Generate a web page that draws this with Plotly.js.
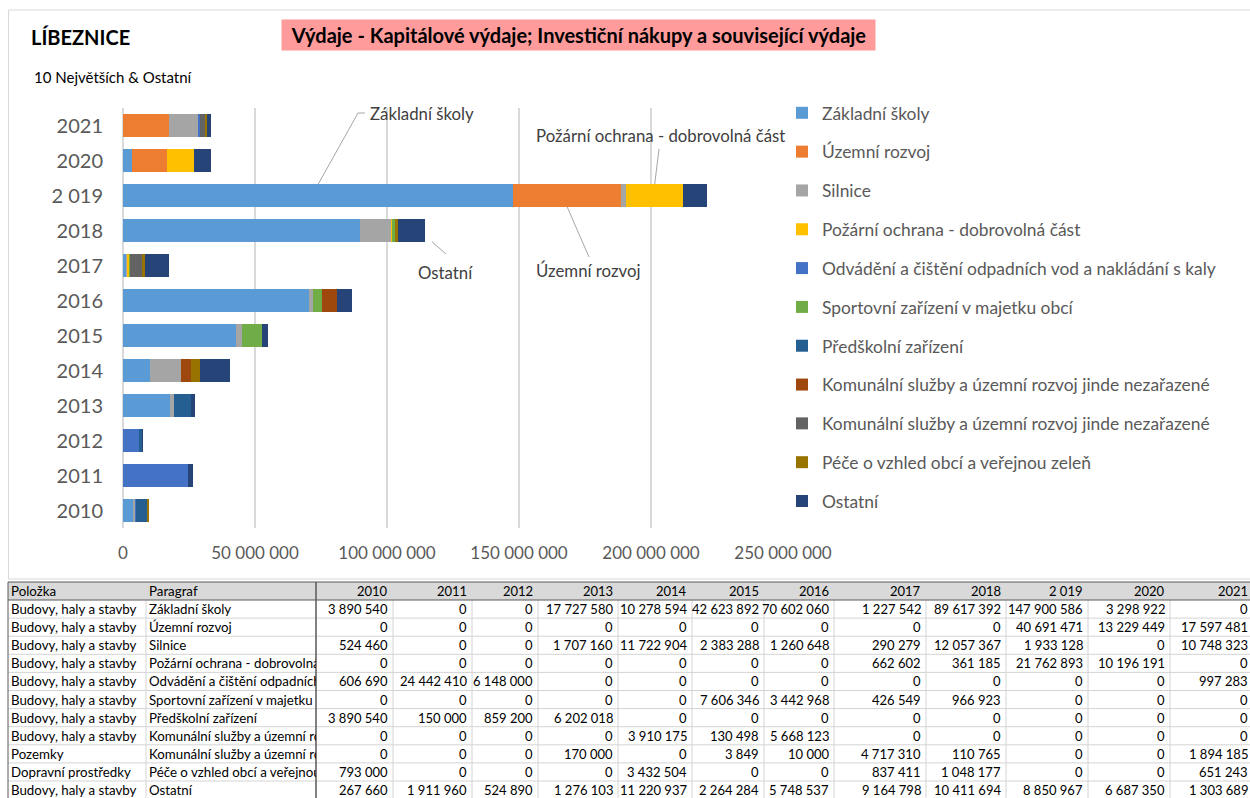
<!DOCTYPE html>
<html><head><meta charset="utf-8">
<script src="https://cdn.plot.ly/plotly-3.0.1.min.js"></script>
<style>html,body{margin:0;padding:0;background:#fff;overflow:hidden;} #chart{width:1250px;height:798px;}</style>
</head><body><div id="chart"></div>
<script>
// ---------- DATA ----------
const years = ['2010','2011','2012','2013','2014','2015','2016','2017','2018','2 019','2020','2021'];
const seriesNames = [
  'Základní školy',
  'Územní rozvoj',
  'Silnice',
  'Požární ochrana - dobrovolná část',
  'Odvádění a čištění odpadních vod a nakládání s kaly',
  'Sportovní zařízení v majetku obcí',
  'Předškolní zařízení',
  'Komunální služby a územní rozvoj jinde nezařazené',
  'Komunální služby a územní rozvoj jinde nezařazené',
  'Péče o vzhled obcí a veřejnou zeleň',
  'Ostatní'
];
const polozka = [
  'Budovy, haly a stavby','Budovy, haly a stavby','Budovy, haly a stavby','Budovy, haly a stavby',
  'Budovy, haly a stavby','Budovy, haly a stavby','Budovy, haly a stavby','Budovy, haly a stavby',
  'Pozemky','Dopravní prostředky','Budovy, haly a stavby'
];
const zakladniSkoly    = [3890540,0,0,17727580,10278594,42623892,70602060,1227542,89617392,147900586,3298922,0];
const uzemniRozvoj     = [0,0,0,0,0,0,0,0,0,40691471,13229449,17597481];
const silnice          = [524460,0,0,1707160,11722904,2383288,1260648,290279,12057367,1933128,0,10748323];
const pozarniOchrana   = [0,0,0,0,0,0,0,662602,361185,21762893,10196191,0];
const odvadeni         = [606690,24442410,6148000,0,0,0,0,0,0,0,0,997283];
const sportovni        = [0,0,0,0,0,7606346,3442968,426549,966923,0,0,0];
const predskolni       = [3890540,150000,859200,6202018,0,0,0,0,0,0,0,0];
const komunalniBudovy  = [0,0,0,0,3910175,130498,5668123,0,0,0,0,0];
const komunalniPozemky = [0,0,0,170000,0,3849,10000,4717310,110765,0,0,1894185];
const peceOVzhled      = [793000,0,0,0,3432504,0,0,837411,1048177,0,0,651243];
const ostatni          = [267660,1911960,524890,1276103,11220937,2264284,5748537,9164798,10411694,8850967,6687350,1303689];
const seriesValues = [zakladniSkoly,uzemniRozvoj,silnice,pozarniOchrana,odvadeni,sportovni,predskolni,komunalniBudovy,komunalniPozemky,peceOVzhled,ostatni];
const colors = ['#5B9BD5','#ED7D31','#A5A5A5','#FFC000','#4472C4','#70AD47','#255E91','#9E480E','#636363','#997300','#264478'];
const xTicks = [0,50000000,100000000,150000000,200000000,250000000];

// ---------- LAYOUT CONSTANTS ----------
const W = 1250, H = 798;
const ML = 123, MT = 108, PW = 660, PH = 420;
const XMAX = 250000000;
const BARGAP = 0.35;
const FONT = 'Lato, "Open Sans", Arial, sans-serif';
const px = x => (x - ML) / PW;
const py = y => (MT + PH - y) / PH;
const pxToVal = x => (x - ML) / PW * XMAX;
const pyToIdx = y => (MT + PH - y) / (PH / years.length) - 0.5;
const fmt = v => String(v).replace(/\B(?=(\d{3})+(?!\d))/g, ' ');

// ---------- TRACES ----------
const traces = seriesValues.map((vals, i) => ({
  type: 'bar', orientation: 'h', name: seriesNames[i],
  x: vals, y: years, legendgroup: 'g' + i,
  marker: {color: colors[i], line: {width: 0}},
  hoverinfo: 'name+x'
}));

// ---------- ANNOTATIONS / SHAPES ----------
const annotations = [];
const shapes = [];

// chart frame
shapes.push({type:'rect', xref:'paper', yref:'paper', x0:px(8.5), x1:px(1262), y0:py(10), y1:py(579), line:{color:'#D9D9D9', width:1}, fillcolor:'rgba(0,0,0,0)', layer:'below'});

annotations.push({xref:'paper', yref:'paper', x:px(29), y:py(37), xanchor:'left', yanchor:'middle', showarrow:false,
  text:'<b>LÍBEZNICE</b>', font:{family:FONT, size:20, color:'#000'}});
annotations.push({xref:'paper', yref:'paper', x:px(578.5), y:py(35), xanchor:'center', yanchor:'middle', showarrow:false,
  text:'<b>Výdaje - Kapitálové výdaje; Investiční nákupy a související výdaje</b>', width:591, height:28, bgcolor:'#FF9B9B',
  font:{family:FONT, size:20, color:'#000'}});
annotations.push({xref:'paper', yref:'paper', x:px(32), y:py(77), xanchor:'left', yanchor:'middle', showarrow:false,
  text:'10 Největších & Ostatní', font:{family:FONT, size:15, color:'#000'}});

// callout labels
const i19 = years.indexOf('2 019');
const i18 = years.indexOf('2018');
const half = (1 - BARGAP) / 2;
const cumBefore = (s, i) => { let t = 0; for (let k = 0; k < s; k++) t += seriesValues[k][i]; return t; };
const lineStyle = {color:'#A6A6A6', width:1};
const CF = {family:FONT, size:16.8, color:'#404040'};
function leader(x0, y0, xpx1, ypx1) {
  shapes.push({type:'line', xref:'x', yref:'y', x0:x0, y0:y0, x1:pxToVal(xpx1), y1:pyToIdx(ypx1), line:lineStyle});
}
// Základní školy (2019)
leader(cumBefore(0,i19) + zakladniSkoly[i19]/2, i19 + half, 358, 113);
shapes.push({type:'line', xref:'x', yref:'y', x0:pxToVal(358), y0:pyToIdx(113), x1:pxToVal(365), y1:pyToIdx(113), line:lineStyle});
annotations.push({xref:'paper', yref:'paper', x:px(368), y:py(114), xanchor:'left', yanchor:'middle', showarrow:false,
  text:'Základní školy', font:CF});
// Územní rozvoj (2019)
leader(cumBefore(1,i19) + uzemniRozvoj[i19]/2, i19 - half, 589, 257);
annotations.push({xref:'paper', yref:'paper', x:px(588), y:py(270), xanchor:'center', yanchor:'middle', showarrow:false,
  text:'Územní rozvoj', font:CF});
// Požární ochrana (2019)
leader(cumBefore(3,i19) + pozarniOchrana[i19]/2, i19 + half, 659, 149);
annotations.push({xref:'paper', yref:'paper', x:px(660), y:py(135), xanchor:'center', yanchor:'middle', showarrow:false,
  text:'Požární ochrana - dobrovolná část', font:CF});
// Ostatní (2018)
leader(cumBefore(11,i18) + 2500000, i18 - half, 446, 254);
annotations.push({xref:'paper', yref:'paper', x:px(445), y:py(272), xanchor:'center', yanchor:'middle', showarrow:false,
  text:'Ostatní', font:CF});

// ---------- TABLE ----------
const tTop = 582, hH = 18, rH = 18.1;
const colEdges = [8, 146, 316, 393, 472, 538, 618, 692, 764, 834, 926, 1006, 1088, 1170, 1253];
const tBottom = 800;
const dark = '#595959', light = '#D4D4D4';
shapes.push({type:'rect', xref:'paper', yref:'paper', x0:px(8), x1:px(1255), y0:py(tTop), y1:py(tTop+hH), fillcolor:'#D9D9D9', line:{width:0}, layer:'below'});
for (let k = 1; k <= seriesNames.length; k++) {
  const y = tTop + hH + k * rH;
  shapes.push({type:'line', xref:'paper', yref:'paper', x0:px(8), x1:px(1255), y0:py(y), y1:py(y), line:{color:light, width:1}});
}
colEdges.forEach((x, j) => {
  if (j === 0 || j === 2 || j === colEdges.length - 1) return;
  shapes.push({type:'line', xref:'paper', yref:'paper', x0:px(x), x1:px(x), y0:py(tTop+hH), y1:py(tBottom), line:{color:light, width:1}});
});
shapes.push({type:'line', xref:'paper', yref:'paper', x0:px(8), x1:px(1255), y0:py(tTop), y1:py(tTop), line:{color:dark, width:1}});
shapes.push({type:'line', xref:'paper', yref:'paper', x0:px(8), x1:px(1255), y0:py(tTop+hH), y1:py(tTop+hH), line:{color:dark, width:1}});
shapes.push({type:'line', xref:'paper', yref:'paper', x0:px(8), x1:px(8), y0:py(tTop), y1:py(tBottom), line:{color:dark, width:1}});
shapes.push({type:'line', xref:'paper', yref:'paper', x0:px(316), x1:px(316), y0:py(tTop), y1:py(tBottom), line:{color:dark, width:1.5}});

const TF = {family:FONT, size:13.3, color:'#000'};
const NF = {family:FONT, size:13, color:'#000'};
function cellLeft(text, c, ycen) {
  annotations.push({xref:'paper', yref:'paper', x:px(colEdges[c] + 1), y:py(ycen), xanchor:'left', yanchor:'middle', align:'left',
    showarrow:false, text:text, width:colEdges[c+1]-colEdges[c]-3, font:TF, borderpad:1});
}
function cellRight(text, c, ycen) {
  annotations.push({xref:'paper', yref:'paper', x:px(colEdges[c+1] - 3), y:py(ycen), xanchor:'right', yanchor:'middle', align:'right',
    showarrow:false, text:text, font:NF, borderpad:1});
}
const hY = tTop + hH / 2;
cellLeft('Položka', 0, hY);
cellLeft('Paragraf', 1, hY);
years.forEach((yr, j) => cellRight(yr, j + 2, hY));
seriesNames.forEach((nm, r) => {
  const yc = tTop + hH + (r + 0.5) * rH;
  cellLeft(polozka[r], 0, yc);
  cellLeft(nm, 1, yc);
  seriesValues[r].forEach((v, j) => cellRight(fmt(v), j + 2, yc));
});

// ---------- LAYOUT ----------
const layout = {
  width: W, height: H,
  margin: {l: ML, r: W - ML - PW, t: MT, b: H - MT - PH, pad: 0},
  paper_bgcolor: '#fff', plot_bgcolor: '#fff',
  separators: ', ',
  barmode: 'stack', bargap: BARGAP,
  font: {family: FONT, color: '#595959'},
  xaxis: {range: [0, XMAX], tickvals: xTicks, tickformat: ',d', showgrid: true, gridcolor: '#D9D9D9', gridwidth: 1.3,
    zeroline: true, zerolinecolor: '#D9D9D9', zerolinewidth: 1.3, showline: false, ticks: '',
    tickfont: {family: FONT, size: 17, color: '#595959'}, ticklabelstandoff: 13, fixedrange: true},
  yaxis: {type: 'category', categoryorder: 'array', categoryarray: years, showgrid: false, zeroline: false, showline: false, ticks: '',
    tickfont: {family: FONT, size: 20, color: '#595959'}, ticklabelstandoff: 19, fixedrange: true},
  showlegend: true,
  legend: {x: px(782), y: py(95), xanchor: 'left', yanchor: 'top', traceorder: 'grouped', tracegroupgap: 13.2, maxheight: 700,
    font: {family: FONT, size: 17.4, color: '#595959'}, bgcolor: 'rgba(0,0,0,0)'},
  annotations: annotations,
  shapes: shapes
};

Plotly.newPlot('chart', traces, layout, {displayModeBar: false, staticPlot: true});
</script>
</body></html>
